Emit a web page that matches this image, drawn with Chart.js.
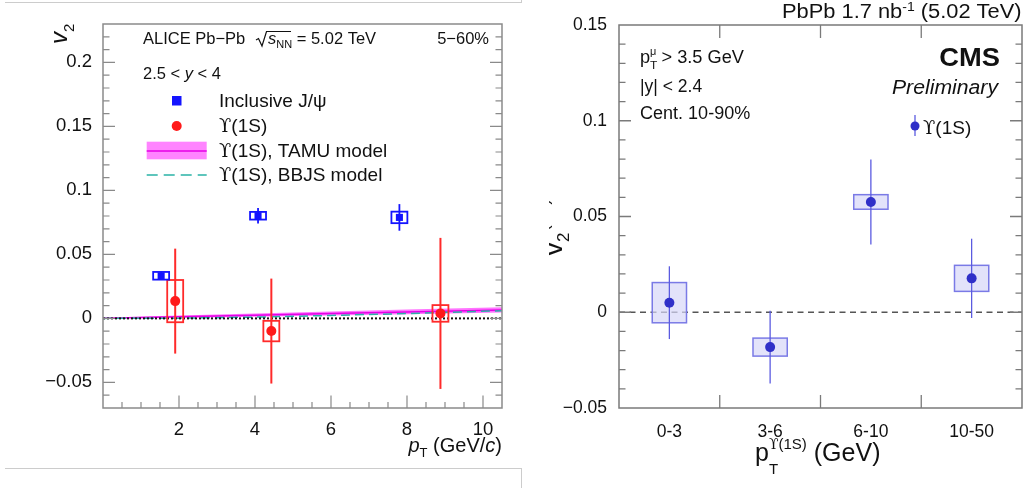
<!DOCTYPE html>
<html>
<head>
<meta charset="utf-8">
<script src="https://cdn.jsdelivr.net/npm/chart.js@4.4.1/dist/chart.umd.min.js"></script>
<style>
  html, body { margin: 0; padding: 0; background: #fff; }
  body { width: 1027px; height: 488px; position: relative; overflow: hidden; }
  #alice { position: absolute; left: 0; top: 0; }
  #cms { position: absolute; left: 520px; top: 0; }
  .rule { position: absolute; background: #cccccc; }
</style>
</head>
<body>
<div class="rule" style="left:5px;top:2px;width:517px;height:1px"></div>
<div class="rule" style="left:521px;top:0;width:1px;height:3px"></div>
<div class="rule" style="left:5px;top:468px;width:517px;height:1px"></div>
<div class="rule" style="left:521px;top:468px;width:1px;height:20px"></div>
<canvas id="alice" width="520" height="488"></canvas>
<canvas id="cms" width="507" height="488"></canvas>
<script>
// ALICE, forward rapidity, 5-60%
const jpsiPt = [1.53, 4.08, 7.8];
const jpsiV2 = [0.0333, 0.0802, 0.0789];
const jpsiStat = [0.003, 0.006, 0.0104];
const jpsiSyst = [0.003, 0.003, 0.0045];

const upsPt = [1.9, 4.43, 8.88];
const upsV2 = [0.0135, -0.0099, 0.0039];
const upsStat = [0.041, 0.041, 0.059];
const upsSyst = [0.0165, 0.008, 0.0065];

const tamuPt = [0, 2, 4, 6, 8, 10.5];
const tamuV2 = [0.0002, 0.0013, 0.0025, 0.0038, 0.005, 0.0066];
const tamuLo = [0, 0.0004, 0.0013, 0.0023, 0.0033, 0.0046];
const tamuHi = [0.0005, 0.0022, 0.0038, 0.0054, 0.007, 0.0088];

const bbjsPt = [0, 2, 4, 6, 8, 10.5];
const bbjsV2 = [0, 0.0002, 0.001, 0.0023, 0.0038, 0.006];

const aliceXTicks = [2, 4, 6, 8, 10];
const aliceYTicks = [-0.05, 0, 0.05, 0.1, 0.15, 0.2];
const aliceYLabels = ['\u22120.05', '0', '0.05', '0.1', '0.15', '0.2'];

// CMS, |y| < 2.4, 10-90%
const cmsBins = ['0-3', '3-6', '6-10', '10-50'];
const cmsV2 = [0.005, -0.0182, 0.0576, 0.0177];
const cmsStat = [0.019, 0.019, 0.0222, 0.0207];
const cmsSyst = [0.0105, 0.0047, 0.0038, 0.0068];

const cmsYTicks = [-0.05, 0, 0.05, 0.1, 0.15];
const cmsYLabels = ['\u22120.05', '0', '0.05', '0.1', '0.15'];

const FONT = '"Liberation Sans", Arial, Helvetica, sans-serif';
const SERIF = '"DejaVu Serif", "Liberation Serif", serif';
const f = (size, style) => (style ? style + ' ' : '') + size + 'px ' + FONT;
const fs = size => size + 'px ' + SERIF;
const UPS = '\u03D2';

const labelFor = (ticks, labels) => v => {
  const i = ticks.findIndex(t => Math.abs(t - v) < 1e-9);
  return i < 0 ? '' : labels[i];
};

// text pieces: [text, font, dy, keepX]; sx stretches the run horizontally
function drawParts(ctx, x, y, parts, align, sx) {
  sx = sx || 1;
  let w = 0;
  parts.forEach(p => { ctx.font = p[1]; if (!p[3]) w += ctx.measureText(p[0]).width; });
  ctx.save();
  ctx.translate(align === 'right' ? x - w * sx : x, y);
  ctx.scale(sx, 1);
  ctx.textAlign = 'left';
  ctx.textBaseline = 'alphabetic';
  let cx = 0;
  parts.forEach(p => {
    ctx.font = p[1];
    ctx.fillText(p[0], cx, p[2] || 0);
    if (!p[3]) cx += ctx.measureText(p[0]).width;
  });
  ctx.restore();
}

// stat bars + syst boxes, drawn under each point dataset
function errorHook(chart, args) {
  const ds = chart.data.datasets[args.index];
  if (!ds.stat) return;
  const xs = chart.scales.x, ys = chart.scales.y, ctx = chart.ctx;
  ctx.save();
  ds.data.forEach((p, i) => {
    const xv = typeof p === 'object' ? p.x : i;
    const yv = typeof p === 'object' ? p.y : p;
    const px = xs.getPixelForValue(xv);
    const x0 = xs.getPixelForValue(xv - ds.boxHalf);
    const x1 = xs.getPixelForValue(xv + ds.boxHalf);
    const y0 = ys.getPixelForValue(yv + ds.syst[i]);
    const y1 = ys.getPixelForValue(yv - ds.syst[i]);
    if (ds.boxFill) { ctx.fillStyle = ds.boxFill; ctx.fillRect(x0, y0, x1 - x0, y1 - y0); }
    ctx.strokeStyle = ds.boxColor;
    ctx.lineWidth = ds.boxWidth;
    ctx.strokeRect(x0, y0, x1 - x0, y1 - y0);
    ctx.strokeStyle = ds.statColor;
    ctx.lineWidth = ds.statWidth;
    ctx.beginPath();
    ctx.moveTo(px, ys.getPixelForValue(yv + ds.stat[i]));
    ctx.lineTo(px, ys.getPixelForValue(yv - ds.stat[i]));
    ctx.stroke();
  });
  ctx.restore();
}

const aliceDecor = {
  id: 'aliceDecor',
  beforeDatasetDraw: errorHook,
  afterDraw(chart) {
    const ctx = chart.ctx, a = chart.chartArea;
    const xs = chart.scales.x, ys = chart.scales.y;
    ctx.save();
    ctx.strokeStyle = '#8a8a8a';
    ctx.lineWidth = 1.5;
    ctx.strokeRect(a.left, a.top, a.right - a.left, a.bottom - a.top);
    ctx.lineWidth = 1.2;
    ctx.beginPath();
    for (let k = -6; k <= 22; k++) {
      const py = ys.getPixelForValue(k / 100);
      const len = k % 5 === 0 ? 12 : 6.5;
      ctx.moveTo(a.left, py); ctx.lineTo(a.left + len, py);
      ctx.moveTo(a.right, py); ctx.lineTo(a.right - len, py);
    }
    for (let k = 1; k <= 20; k++) {
      const px = xs.getPixelForValue(k / 2);
      const len = k % 4 === 0 ? 12.5 : 6;
      ctx.moveTo(px, a.bottom); ctx.lineTo(px, a.bottom - len);
    }
    ctx.stroke();

    ctx.fillStyle = '#111';
    // header
    drawParts(ctx, 143, 44, [['ALICE Pb\u2212Pb', f(16.5)]]);
    ctx.strokeStyle = '#111';
    ctx.lineWidth = 1.2;
    ctx.beginPath();
    ctx.moveTo(256, 40); ctx.lineTo(258.5, 38.5); ctx.lineTo(262, 46);
    ctx.lineTo(266.5, 31.5); ctx.lineTo(291, 31.5);
    ctx.stroke();
    drawParts(ctx, 268, 44, [['s', f(16.5, 'italic')], ['NN', f(11), 4], [' = 5.02 TeV', f(16.5)]]);
    drawParts(ctx, 489, 44, [['5\u221260%', f(16.5)]], 'right');
    drawParts(ctx, 143, 79, [['2.5 < ', f(16.5)], ['y', f(16.5, 'italic')], [' < 4', f(16.5)]]);

    // legend
    ctx.fillStyle = '#1414ff';
    ctx.fillRect(172, 96, 9.5, 9.5);
    ctx.fillStyle = '#ff1a1a';
    ctx.beginPath(); ctx.arc(176.7, 126, 5, 0, Math.PI * 2); ctx.fill();
    ctx.fillStyle = 'rgba(255, 110, 255, 0.85)';
    ctx.fillRect(146.7, 141.7, 60, 17.6);
    ctx.strokeStyle = '#e600e6';
    ctx.lineWidth = 1.5;
    ctx.beginPath(); ctx.moveTo(146.7, 151); ctx.lineTo(206.7, 151); ctx.stroke();
    ctx.strokeStyle = '#2ab3a6';
    ctx.setLineDash([11, 6]);
    ctx.beginPath(); ctx.moveTo(146.7, 175); ctx.lineTo(206.7, 175); ctx.stroke();
    ctx.setLineDash([]);
    ctx.fillStyle = '#111';
    drawParts(ctx, 219, 107, [['Inclusive J/\u03C8', f(19)]]);
    drawParts(ctx, 219, 132, [[UPS, fs(18)], ['(1S)', f(19)]]);
    drawParts(ctx, 219, 157, [[UPS, fs(18)], ['(1S), TAMU model', f(19)]]);
    drawParts(ctx, 219, 181, [[UPS, fs(18)], ['(1S), BBJS model', f(19)]]);

    // axis titles
    drawParts(ctx, 502, 452, [['p', f(20, 'italic')], ['T', f(13), 5], [' (GeV/', f(20)], ['c', f(20, 'italic')], [')', f(20)]], 'right');
    ctx.save();
    ctx.translate(67, 44);
    ctx.rotate(-Math.PI / 2);
    drawParts(ctx, 0, 0, [['v', f(24, 'italic')], ['2', f(15), 7]]);
    ctx.restore();
    ctx.restore();
  }
};

const cmsDecor = {
  id: 'cmsDecor',
  beforeDatasetDraw: errorHook,
  beforeDatasetsDraw(chart) {
    const ctx = chart.ctx, a = chart.chartArea, ys = chart.scales.y;
    const py = ys.getPixelForValue(0);
    ctx.save();
    ctx.strokeStyle = '#555';
    ctx.lineWidth = 1.5;
    ctx.setLineDash([6, 4.5]);
    ctx.beginPath(); ctx.moveTo(a.left, py); ctx.lineTo(a.right, py); ctx.stroke();
    ctx.restore();
  },
  afterDraw(chart) {
    const ctx = chart.ctx, a = chart.chartArea;
    const xs = chart.scales.x, ys = chart.scales.y;
    ctx.save();
    ctx.strokeStyle = '#7a7a7a';
    ctx.lineWidth = 1.5;
    ctx.strokeRect(a.left, a.top, a.right - a.left, a.bottom - a.top);
    ctx.lineWidth = 1.3;
    ctx.beginPath();
    for (let k = -4; k <= 14; k++) {
      const py = ys.getPixelForValue(k / 100);
      const len = k % 5 === 0 ? 12 : 6.5;
      ctx.moveTo(a.left, py); ctx.lineTo(a.left + len, py);
      ctx.moveTo(a.right, py); ctx.lineTo(a.right - len, py);
    }
    for (let i = 0; i < cmsBins.length - 1; i++) {
      const px = xs.getPixelForValue(i + 0.5);
      ctx.moveTo(px, a.bottom); ctx.lineTo(px, a.bottom - 13);
      ctx.moveTo(px, a.top); ctx.lineTo(px, a.top + 13);
    }
    ctx.stroke();

    ctx.fillStyle = '#111';
    drawParts(ctx, 501.5, 18, [['PbPb 1.7 nb', f(19.5)], ['-1', f(12.5), -7], [' (5.02 TeV)', f(19.5)]], 'right', 1.12);
    drawParts(ctx, 120, 63, [['p', f(17.5)], ['T', f(11.5), 6, true], ['\u03BC', f(10.5), -8], [' > 3.5 GeV', f(17.5)]], 'left', 1.04);
    drawParts(ctx, 120, 92, [['|y| < 2.4', f(17.5)]]);
    drawParts(ctx, 120, 119, [['Cent. 10-90%', f(17.5)]], 'left', 1.03);
    drawParts(ctx, 480, 66, [['CMS', f(26, 'bold')]], 'right', 1.05);
    drawParts(ctx, 478, 94, [['Preliminary', f(20, 'italic')]], 'right', 1.06);

    // legend
    ctx.strokeStyle = '#5b5be0';
    ctx.lineWidth = 1.3;
    ctx.beginPath(); ctx.moveTo(395, 115); ctx.lineTo(395, 136); ctx.stroke();
    ctx.fillStyle = '#3030c8';
    ctx.beginPath(); ctx.arc(395, 126, 4.5, 0, Math.PI * 2); ctx.fill();
    ctx.fillStyle = '#111';
    drawParts(ctx, 403, 134, [[UPS, fs(18)], ['(1S)', f(19)]]);

    // axis titles
    drawParts(ctx, 235, 461, [['p', f(25)], ['T', f(15), 13, true], [UPS, fs(14), -12], ['(1S)', f(15), -12], [' (GeV)', f(25)]]);
    ctx.save();
    ctx.beginPath(); ctx.rect(29, 0, 80, 488); ctx.clip();
    ctx.translate(42, 256);
    ctx.rotate(-Math.PI / 2);
    drawParts(ctx, 0, 0, [['v', f(28)], ['2', f(17), 7, true], [UPS, fs(16), -13], ['(1S)', f(17), -13]]);
    ctx.restore();
    ctx.restore();
  }
};

new Chart(document.getElementById('alice'), {
  type: 'scatter',
  data: {
    datasets: [
      {
        label: 'Inclusive J/\u03C8',
        data: jpsiPt.map((x, i) => ({ x, y: jpsiV2[i] })),
        pointStyle: 'rect', pointRadius: 5, pointBackgroundColor: '#1414ff', pointBorderWidth: 0,
        stat: jpsiStat, syst: jpsiSyst, boxHalf: 0.21,
        boxColor: '#1414ff', boxWidth: 1.8, statColor: '#1414ff', statWidth: 1.8,
        order: 0
      },
      {
        label: UPS + '(1S)',
        data: upsPt.map((x, i) => ({ x, y: upsV2[i] })),
        pointStyle: 'circle', pointRadius: 5, pointBackgroundColor: '#ff1a1a', pointBorderWidth: 0,
        stat: upsStat, syst: upsSyst, boxHalf: 0.21,
        boxColor: '#ff2a2a', boxWidth: 1.8, statColor: '#ff2a2a', statWidth: 2,
        order: 0
      },
      {
        type: 'line', label: 'zero',
        data: [{ x: 0, y: 0 }, { x: 10.5, y: 0 }],
        borderColor: '#111', borderWidth: 2, borderDash: [2, 2], pointRadius: 0, fill: false,
        order: 1
      },
      {
        type: 'line', label: UPS + '(1S), BBJS model',
        data: bbjsPt.map((x, i) => ({ x, y: bbjsV2[i] })),
        borderColor: '#2ab3a6', borderWidth: 1.5, borderDash: [9, 5], pointRadius: 0, fill: false,
        order: 2
      },
      {
        type: 'line', label: UPS + '(1S), TAMU model',
        data: tamuPt.map((x, i) => ({ x, y: tamuV2[i] })),
        borderColor: '#e600e6', borderWidth: 1.5, pointRadius: 0, fill: false,
        order: 3
      },
      {
        type: 'line', label: 'TAMU low',
        data: tamuPt.map((x, i) => ({ x, y: tamuLo[i] })),
        borderWidth: 0, borderColor: 'rgba(0,0,0,0)', pointRadius: 0, fill: false,
        order: 4
      },
      {
        type: 'line', label: 'TAMU high',
        data: tamuPt.map((x, i) => ({ x, y: tamuHi[i] })),
        borderWidth: 0, borderColor: 'rgba(0,0,0,0)', pointRadius: 0,
        fill: '-1', backgroundColor: 'rgba(255, 90, 255, 0.85)',
        order: 5
      }
    ]
  },
  options: {
    responsive: false,
    animation: false,
    layout: { padding: { left: 0, top: 24, right: 18, bottom: 0 } },
    plugins: { legend: { display: false }, tooltip: { enabled: false } },
    scales: {
      x: {
        type: 'linear', min: 0, max: 10.5,
        grid: { display: false }, border: { display: false },
        afterBuildTicks: s => { s.ticks = aliceXTicks.map(v => ({ value: v })); },
        afterFit: s => { s.height = 80; },
        ticks: { padding: 3, color: '#111', font: { family: FONT, size: 18.5 }, maxRotation: 0, autoSkip: false, callback: v => String(v) }
      },
      y: {
        type: 'linear', min: -0.07, max: 0.23,
        grid: { display: false }, border: { display: false },
        afterBuildTicks: s => { s.ticks = aliceYTicks.map(v => ({ value: v })); },
        afterFit: s => { s.width = 103; },
        ticks: { padding: 3, color: '#111', font: { family: FONT, size: 18.5 }, autoSkip: false, callback: labelFor(aliceYTicks, aliceYLabels) }
      }
    }
  },
  plugins: [aliceDecor]
});

new Chart(document.getElementById('cms'), {
  type: 'line',
  data: {
    labels: cmsBins,
    datasets: [{
      label: UPS + '(1S)',
      data: cmsV2,
      showLine: false,
      pointStyle: 'circle', pointRadius: 5, pointBackgroundColor: '#3030c8', pointBorderWidth: 0,
      stat: cmsStat, syst: cmsSyst, boxHalf: 0.17,
      boxFill: 'rgba(215, 215, 248, 0.7)', boxColor: '#7a7ae6', boxWidth: 1.5,
      statColor: '#5b5be0', statWidth: 1.3
    }]
  },
  options: {
    responsive: false,
    animation: false,
    layout: { padding: { left: 0, top: 25, right: 4, bottom: 0 } },
    plugins: { legend: { display: false }, tooltip: { enabled: false } },
    scales: {
      x: {
        type: 'category', offset: true,
        grid: { display: false }, border: { display: false },
        afterFit: s => { s.height = 80; },
        ticks: { padding: 6, color: '#111', font: { family: FONT, size: 17.5 }, maxRotation: 0, autoSkip: false }
      },
      y: {
        type: 'linear', min: -0.05, max: 0.15,
        grid: { display: false }, border: { display: false },
        afterBuildTicks: s => { s.ticks = cmsYTicks.map(v => ({ value: v })); },
        afterFit: s => { s.width = 99; },
        ticks: { padding: 4, color: '#111', font: { family: FONT, size: 17.5 }, autoSkip: false, callback: labelFor(cmsYTicks, cmsYLabels) }
      }
    }
  },
  plugins: [cmsDecor]
});
</script>
</body>
</html>
